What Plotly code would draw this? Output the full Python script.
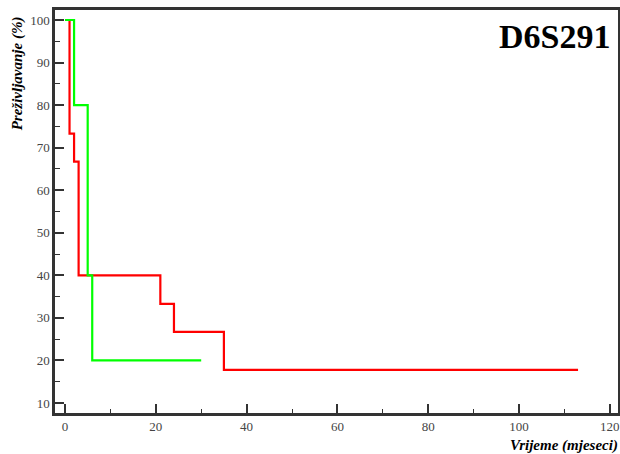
import plotly.graph_objects as go

# Kaplan-Meier steps (months, survival %)
red_t = [0, 1, 2, 3, 21, 24, 35, 113]
red_s = [100, 73.3, 66.7, 40, 33.3, 26.7, 17.8, 17.8]

green_t = [0, 2, 5, 6, 30]
green_s = [100, 80, 40, 20, 20]

x_ticks = [0, 20, 40, 60, 80, 100, 120]
y_ticks = [10, 20, 30, 40, 50, 60, 70, 80, 90, 100]

fig = go.Figure()
fig.add_trace(go.Scatter(x=red_t, y=red_s, mode="lines", line_shape="hv",
                         line=dict(color="#ff0000", width=2.2)))
fig.add_trace(go.Scatter(x=green_t, y=green_s, mode="lines", line_shape="hv",
                         line=dict(color="#00ff00", width=2.2)))

axis_common = dict(showline=True, mirror=True, linecolor="#333", linewidth=2.5,
                   showgrid=False, zeroline=False, ticks="inside", ticklen=9,
                   tickwidth=1.6, tickcolor="#333", automargin=False,
                   ticklabeloverflow="allow",
                   tickfont=dict(family="Liberation Serif", size=13, color="#444"))

fig.update_xaxes(range=[-2.2, 121.8], tickvals=x_ticks,
                 minor=dict(dtick=10, ticks="inside", ticklen=4, tickwidth=1.4, tickcolor="#333"),
                 **axis_common)
fig.update_yaxes(range=[7.65, 102.35], tickvals=y_ticks,
                 minor=dict(dtick=5, ticks="inside", ticklen=5, tickwidth=1.4, tickcolor="#333"),
                 **axis_common)

fig.add_annotation(text="<b>D6S291</b>", xref="paper", yref="paper", x=0.99, y=0.985,
                   xanchor="right", yanchor="top", showarrow=False,
                   font=dict(family="Liberation Serif", size=34, color="black"))
fig.add_annotation(text="<b><i>Preživljavanje (%)</i></b>", xref="paper", yref="paper",
                   x=-0.067, y=0.99, xanchor="center", yanchor="top", textangle=-90,
                   showarrow=False, font=dict(family="Liberation Serif", size=15, color="black"))
fig.add_annotation(text="<b><i>Vrijeme (mjeseci)</i></b>", xref="paper", yref="paper",
                   x=1.004, y=-0.055, xanchor="right", yanchor="top",
                   showarrow=False, font=dict(family="Liberation Serif", size=15, color="black"))

fig.update_layout(width=620, height=454, margin=dict(l=55, r=2, t=10, b=41),
                  plot_bgcolor="white", paper_bgcolor="white", showlegend=False)

# drop the default body margin so the figure fills the window without scrollbars
fig.write_html("out.html", config={"displayModeBar": False},
               post_script="document.body.style.margin='0';document.body.style.overflow='hidden';")
